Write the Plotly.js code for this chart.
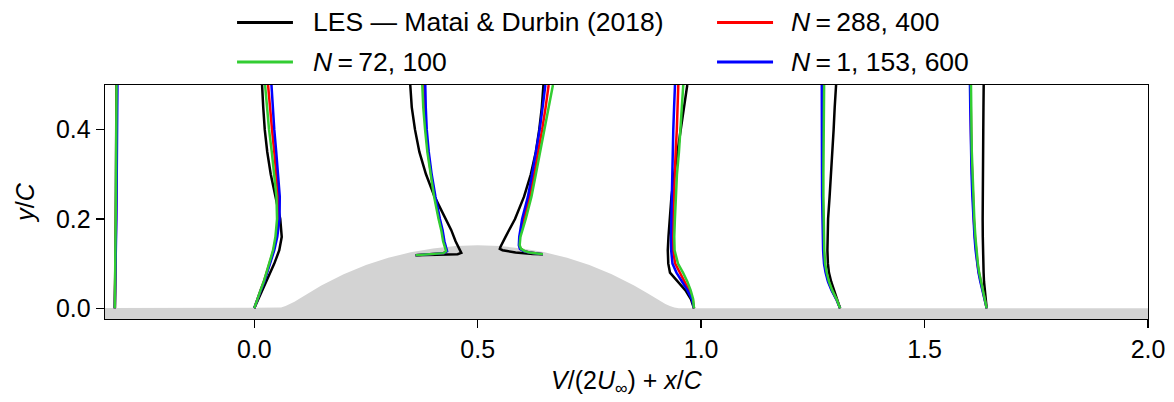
<!DOCTYPE html>
<html><head><meta charset="utf-8">
<script src="https://cdn.plot.ly/plotly-3.0.1.min.js"></script>
<style>html,body{margin:0;padding:0;background:#fff}</style>
</head><body><div id="chart" style="width:1174px;height:402px"></div>
<script>
// Stations x/C where the profiles are taken
const stations = [-0.312, 0.0, 0.361, 0.646, 0.984, 1.311, 1.639];

// common wall-normal grid (y/C) for stations on the flat wall
const yFlat = [0, 0.02, 0.04, 0.06, 0.08, 0.1, 0.13, 0.16, 0.2, 0.25, 0.3, 0.35, 0.4, 0.45, 0.5];
// grids for the stations on the hill
const yHill3N = [0.119, 0.1205, 0.122, 0.1235, 0.128, 0.138, 0.15, 0.175, 0.2, 0.25, 0.3, 0.35, 0.4, 0.45, 0.5];
const yHill3L = [0.119, 0.1195, 0.121, 0.124, 0.13, 0.138, 0.15, 0.175, 0.2, 0.25, 0.3, 0.35, 0.4, 0.45, 0.5];
const yHill4N = [0.121, 0.1225, 0.125, 0.128, 0.133, 0.141, 0.16, 0.2, 0.25, 0.3, 0.35, 0.4, 0.45, 0.5];
const yHill4L = [0.121, 0.1215, 0.125, 0.13, 0.133, 0.138, 0.16, 0.2, 0.25, 0.3, 0.35, 0.4, 0.45, 0.5];

// V/(2 U_inf) values, LES (Matai & Durbin 2018)
const les_s1 = [0, .0004, .0007, .0009, .0011, .0013, .0016, .0018, .0021, .0024, .0027, .003, .0032, .0034, .0036];
const les_s2 = [0, .009, .0179, .0269, .0358, .0448, .056, .0615, .0582, .0481, .0369, .0291, .0235, .0201, .0175];
const les_s3 = [0, .0537, .094, .1023, .0996, .0947, .0895, .0799, .0678, .0425, .0233, .0085, -.0013, -.0085, -.0119];
const les_s4 = [0, -.0224, -.0613, -.0904, -.0965, -.0949, -.0837, -.0625, -.0423, -.0271, -.0159, -.0083, -.0025, .0011];
const les_s5 = [0, -.0067, -.019, -.0369, -.0537, -.0575, -.0586, -.0571, -.0544, -.0504, -.0443, -.0369, -.0293, -.0219, -.015];
const les_s6 = [0, -.0067, -.0139, -.0201, -.025, -.0273, -.0284, -.0282, -.0269, -.0235, -.0201, -.017, -.0145, -.0121, -.009];
const les_s7 = [0, -.0022, -.0045, -.006, -.0069, -.0076, -.0083, -.0087, -.009, -.009, -.009, -.0083, -.0076, -.0072, -.0067];

// N = 72,100
const n72_s1 = [0, .0003, .0006, .0008, .001, .0012, .0015, .0017, .002, .0024, .0027, .003, .0033, .0036, .0038];
const n72_s2 = [0, .0063, .0139, .0213, .0273, .0331, .0421, .0474, .051, .0497, .0452, .0392, .0331, .0286, .0242];
const n72_s3 = [0, .0224, .0448, .0627, .0683, .0649, .0616, .0575, .0515, .0414, .0331, .0264, .0213, .0172, .015];
const n72_s4 = [0, -.0141, -.0298, -.0409, -.0488, -.0521, -.0504, -.0385, -.0257, -.0159, -.006, .004, .0128, .0224];
const n72_s5 = [0, -.0018, -.0074, -.015, -.0246, -.0358, -.0434, -.0441, -.0427, -.0407, -.0381, -.0336, -.0302, -.0269, -.024];
const n72_s6 = [0, -.0078, -.0175, -.0251, -.03, -.0336, -.0354, -.0363, -.0372, -.0374, -.0374, -.0374, -.0367, -.0358, -.0358];
const n72_s7 = [0, -.0045, -.0092, -.013, -.0168, -.0197, -.023, -.0253, -.0277, -.03, -.0318, -.0333, -.034, -.0347, -.0351];

// N = 288,400
const n288_s1 = [0, .0004, .0008, .0011, .0014, .0017, .002, .0023, .0027, .0031, .0035, .0038, .0041, .0044, .0046];
const n288_s2 = [0, .0065, .0141, .0217, .028, .0342, .0432, .0492, .0537, .0537, .0499, .0448, .0398, .0351, .0309];
const n288_s3 = [0, .0224, .0448, .0632, .0695, .0665, .0632, .059, .053, .043, .0345, .028, .023, .0205, .0195];
const n288_s4 = [0, -.0141, -.0303, -.042, -.05, -.053, -.0517, -.0425, -.0298, -.0197, -.0101, -.0018, .006, .0128];
const n288_s5 = [0, -.003, -.011, -.021, -.032, -.042, -.047, -.0478, -.047, -.0455, -.0437, -.041, -.0384, -.0367, -.0351];
const n288_s6 = [0, -.008, -.018, -.026, -.031, -.0348, -.0367, -.0376, -.0385, -.0388, -.039, -.039, -.0386, -.038, -.0384];
const n288_s7 = [0, -.0047, -.0096, -.0137, -.0176, -.0206, -.0239, -.0262, -.0287, -.031, -.0328, -.0343, -.035, -.0357, -.0362];

// N = 1,153,600
const n1153_s1 = [0, .0005, .001, .0014, .0018, .0022, .0026, .003, .0034, .0039, .0043, .0047, .0051, .0055, .0058];
const n1153_s2 = [0, .0067, .0145, .0224, .0291, .0358, .0448, .0515, .0566, .0571, .0537, .0492, .0448, .0414, .0385];
const n1153_s3 = [0, .0224, .0448, .0637, .0705, .0678, .0645, .0605, .0545, .0445, .036, .0295, .025, .0228, .0217];
const n1153_s4 = [0, -.0141, -.0309, -.0432, -.0515, -.0539, -.053, -.0466, -.0336, -.0242, -.0152, -.0074, -.0007, .0054];
const n1153_s5 = [0, -.0045, -.0145, -.0269, -.0392, -.0481, -.0511, -.0515, -.0508, -.0501, -.0492, -.0479, -.0463, -.0445, -.0425];
const n1153_s6 = [0, -.0085, -.019, -.0272, -.0325, -.036, -.038, -.039, -.0398, -.0403, -.0405, -.0405, -.0405, -.0405, -.041];
const n1153_s7 = [0, -.005, -.01, -.0143, -.0183, -.0214, -.0248, -.0272, -.0297, -.032, -.0338, -.0353, -.0361, -.0367, -.0374];

// Hill / wall geometry (x/C, y/C)
const hillX = [-0.5, 0.05, 0.06, 0.07, 0.08, 0.09, 0.1, 0.12, 0.15, 0.2, 0.25, 0.3, 0.35, 0.4, 0.45, 0.5,
               0.55, 0.6, 0.65, 0.7, 0.75, 0.8, 0.85, 0.88, 0.9, 0.91, 0.92, 0.93, 0.94, 0.95, 2.5];
const hillY = [0, 0, 0.0015, 0.005, 0.0095, 0.0148, 0.021, 0.0337, 0.0512, 0.0762, 0.0967, 0.1129, 0.1254, 0.1341, 0.1393, 0.141,
               0.1393, 0.1341, 0.1254, 0.1129, 0.0967, 0.0762, 0.0512, 0.0337, 0.021, 0.0148, 0.0095, 0.005, 0.0015, 0, 0];

// legend entries: label, colour
const legendNames = ['LES \u2014 Matai & Durbin (2018)', '<i>N</i>\u2009=\u200972, 100', '<i>N</i>\u2009=\u2009288, 400', '<i>N</i>\u2009=\u20091, 153, 600'];
const colors = ['#000000', '#32cd32', '#ff0000', '#0000ff'];

function build(vs, ys) {
  const x = [], y = [];
  for (let i = 0; i < stations.length; i++) {
    for (let j = 0; j < vs[i].length; j++) {
      x.push(stations[i] + vs[i][j]);
      y.push(ys[i][j]);
    }
    x.push(null); y.push(null);
  }
  return {x, y};
}
const gN = [yFlat, yFlat, yHill3N, yHill4N, yFlat, yFlat, yFlat];
const gL = [yFlat, yFlat, yHill3L, yHill4L, yFlat, yFlat, yFlat];
const les = build([les_s1, les_s2, les_s3, les_s4, les_s5, les_s6, les_s7], gL);
const n72 = build([n72_s1, n72_s2, n72_s3, n72_s4, n72_s5, n72_s6, n72_s7], gN);
const n288 = build([n288_s1, n288_s2, n288_s3, n288_s4, n288_s5, n288_s6, n288_s7], gN);
const n1153 = build([n1153_s1, n1153_s2, n1153_s3, n1153_s4, n1153_s5, n1153_s6, n1153_s7], gN);

const hillPolyX = hillX.concat([2.5, -0.5]);
const hillPolyY = hillY.concat([-0.1, -0.1]);

const lw = 2.5;
const traces = [
  {x: hillPolyX, y: hillPolyY, type: 'scatter', mode: 'lines', fill: 'toself', fillcolor: '#d3d3d3',
   line: {width: 0, color: '#d3d3d3'}, showlegend: false, hoverinfo: 'skip'},
  {x: les.x, y: les.y, type: 'scatter', mode: 'lines', name: legendNames[0], line: {color: colors[0], width: lw}},
  {x: n288.x, y: n288.y, type: 'scatter', mode: 'lines', name: legendNames[2], line: {color: colors[2], width: lw}},
  {x: n1153.x, y: n1153.y, type: 'scatter', mode: 'lines', name: legendNames[3], line: {color: colors[3], width: lw}},
  {x: n72.x, y: n72.y, type: 'scatter', mode: 'lines', name: legendNames[1], line: {color: colors[1], width: lw}}
];

const fontFam = 'Liberation Sans, Arial, Helvetica, sans-serif';

// Hand-built legend (2 columns x 2 rows, matplotlib-like ordering)
const legendSlots = [ // [series index, column x0, column x1, text x, row y]  (paper coords)
  [0, 0.1266, 0.1802, 0.1975, 1.2671],
  [1, 0.1266, 0.1802, 0.1975, 1.0983],
  [2, 0.5868, 0.6405, 0.6560, 1.2671],
  [3, 0.5868, 0.6405, 0.6560, 1.0983]
];
const shapes = legendSlots.map(s => ({type: 'line', xref: 'paper', yref: 'paper',
  x0: s[1], x1: s[2], y0: s[4], y1: s[4], line: {color: colors[s[0]], width: 3}}));
const annotations = legendSlots.map(s => ({xref: 'paper', yref: 'paper', x: s[3], y: s[4],
  xanchor: 'left', yanchor: 'middle', showarrow: false, text: legendNames[s[0]],
  font: {family: fontFam, size: 26.5, color: '#000'}}));

const layout = {
  width: 1174, height: 402,
  margin: {l: 105, r: 26, t: 85, b: 83, autoexpand: false},
  paper_bgcolor: '#ffffff', plot_bgcolor: '#ffffff',
  font: {family: fontFam, size: 25, color: '#000'},
  showlegend: false,
  shapes: shapes,
  annotations: annotations,
  xaxis: {range: [-0.334, 2.0], tickvals: [0, 0.5, 1.0, 1.5, 2.0], tickformat: '.1f',
    ticks: 'outside', ticklen: 8, tickwidth: 1.3, tickcolor: '#000',
    showline: true, mirror: true, linecolor: '#000', linewidth: 1.3,
    showgrid: false, zeroline: false, automargin: false,
    tickfont: {family: fontFam, size: 25, color: '#000'},
    title: {text: '<i>V</i>/(2<i>U</i><sub>\u221e</sub>) + <i>x</i>/<i>C</i>', standoff: 9,
      font: {family: fontFam, size: 25, color: '#000'}}},
  yaxis: {range: [-0.024, 0.5], tickvals: [0, 0.2, 0.4], tickformat: '.1f',
    ticks: 'outside', ticklen: 8, tickwidth: 1.3, tickcolor: '#000',
    showline: true, mirror: true, linecolor: '#000', linewidth: 1.3,
    showgrid: false, zeroline: false, automargin: false,
    tickfont: {family: fontFam, size: 25, color: '#000'},
    title: {text: '<i>y</i>/<i>C</i>', standoff: 14,
      font: {family: fontFam, size: 25, color: '#000'}}}
};

Plotly.newPlot('chart', traces, layout, {displayModeBar: false, staticPlot: true});
</script>
</body></html>
